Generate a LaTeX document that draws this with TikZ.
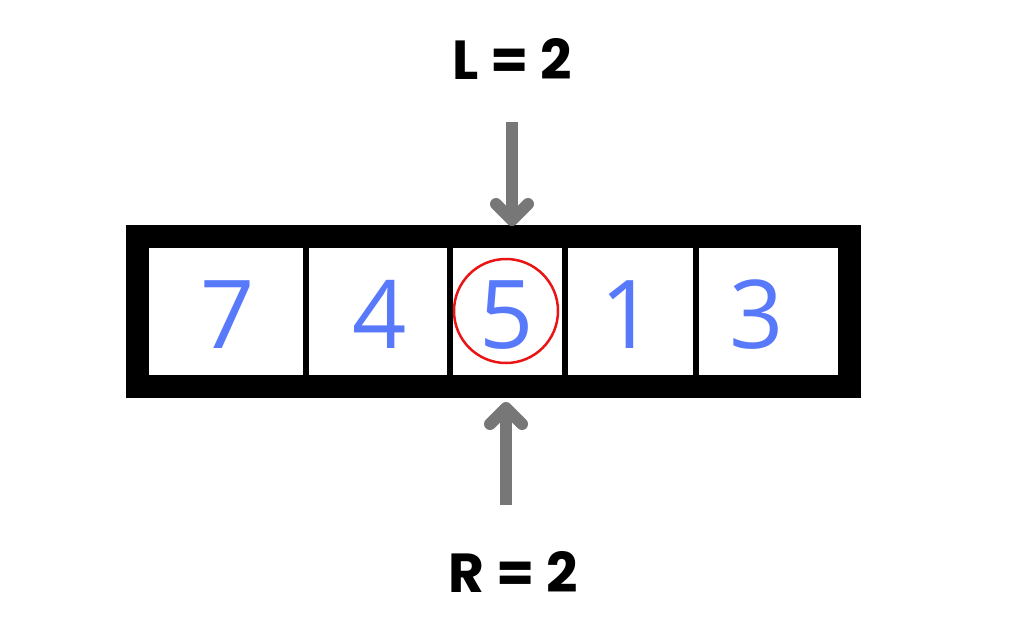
\documentclass[tikz,border=0pt]{standalone}
\usepackage{fontspec}
\newfontfamily\numfont{Open Sans}
\newfontfamily\labfont{Poppins}
\definecolor{numblue}{RGB}{87,121,250}
\definecolor{arrgray}{RGB}{119,119,119}
\definecolor{circred}{RGB}{235,20,20}
\begin{document}
\begin{tikzpicture}[x=1pt,y=-1pt,
  cellbox/.style={fill=white,draw=none,inner sep=0pt,outer sep=0pt},
  digit/.style={anchor=base,inner sep=0pt,text=numblue,font=\numfont\fontsize{95}{100}\selectfont},
  lab/.style={anchor=base,inner sep=0pt,font=\labfont\bfseries\fontsize{55}{60}\selectfont},
  shaft/.style={draw=arrgray,line width=12pt},
  headarm/.style={draw=arrgray,line width=12pt,line cap=round,line join=round}]
\useasboundingbox (0,0) rectangle (1024,635);
\fill[white] (0,0) rectangle (1024,635);
% outer frame
\fill[black] (126,225) rectangle (861,398);
% cells
\fill[white] (149,248) rectangle (303,375);
\fill[white] (309,248) rectangle (447,375);
\fill[white] (453,248) rectangle (562,375);
\fill[white] (568,248) rectangle (693,375);
\fill[white] (699,248) rectangle (838,375);
% digits
\node[digit] (d1) at (228,348) {7};
\node[digit] (d2) at (380,348) {4};
\node[digit] (d3) at (507,348) {5};
\node[digit] (d4) at (628,348) {1};
\node[digit] (d5) at (757,348) {3};
% red circle
\draw[circred,line width=2.5pt] (506,311) circle (52);
% labels
\node[lab] (L) at (512,79) {L = 2};
\node[lab] (R) at (513,592) {R = 2};
% top arrow
\coordinate (lt) at (512,122);
\coordinate (lh) at (512,220);
\draw[shaft] (lt) -- (512,214);
\draw[headarm] (496,204) -- (lh) -- (528,204);
% bottom arrow
\coordinate (rt) at (506,505);
\coordinate (rh) at (506,408);
\draw[shaft] (rt) -- (506,414);
\draw[headarm] (490,424) -- (rh) -- (522,424);
\end{tikzpicture}
\end{document}
